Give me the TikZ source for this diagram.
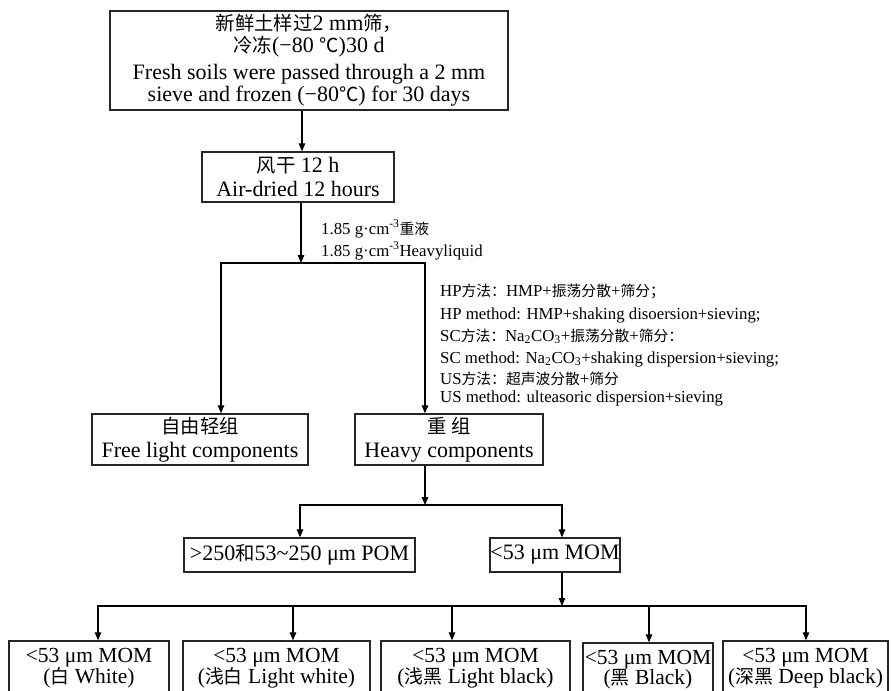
\documentclass[tikz,border=0pt]{standalone}
\usepackage{fontspec}
\setmainfont{Liberation Serif}
\newfontfamily\cjk[Scale=0.88]{Noto Sans CJK SC}
\usetikzlibrary{arrows.meta}
\begin{document}
\begin{tikzpicture}[x=1pt,y=-1pt,
  box/.style={draw=black!85, line width=1.3pt, inner sep=0pt, align=center, font=\fontsize{22}{22}\selectfont},
  small/.style={font=\fontsize{21.5}{20}\selectfont},
  arr/.style={-{Triangle[length=8pt,width=6.5pt]}, line width=1.2pt},
  ln/.style={line width=1.2pt},
  note/.style={inner sep=0pt, anchor=base west, font=\fontsize{16.8}{20}\selectfont}]

\clip (0,0) rectangle (892,691);

% boxes
\node[box, minimum width=398pt, minimum height=99pt] (top) at (309,60.5)
  {{\cjk 新鲜土样过}2 mm{\cjk 筛，}\\ {\cjk 冷冻}(−80 {\cjk ℃})30 d\\[5pt]
   Fresh soils were passed through a 2 mm\\ sieve and frozen (−80{\cjk ℃}) for 30 days};
\node[box, minimum width=192pt, minimum height=50pt, font=\fontsize{22}{24}\selectfont] (air) at (298,177)
  {{\cjk 风干} 12 h\\ Air-dried 12 hours};
\node[box, minimum width=216pt, minimum height=51pt, font=\fontsize{22}{24}\selectfont] (free) at (200,439.5)
  {{\cjk 自由轻组}\\ Free light components};
\node[box, minimum width=188pt, minimum height=51pt, font=\fontsize{22}{24}\selectfont] (heavy) at (449,439.5)
  {{\cjk 重 组}\\ Heavy components};
\node[box, minimum width=231pt, minimum height=34pt] (pom) at (299.5,555)
  {>250{\cjk 和}53\textasciitilde250 μm POM};
\node[box, minimum width=130pt, minimum height=34pt] (mom) at (555,555)
  {<53 μm MOM};

\node[box, small, minimum width=160pt, minimum height=54pt] (b1) at (89,668)
  {<53 μm MOM\\({\cjk 白} White)};
\node[box, small, minimum width=187pt, minimum height=54pt] (b2) at (276.5,668)
  {<53 μm MOM\\({\cjk 浅白} Light white)};
\node[box, small, minimum width=189pt, minimum height=54pt] (b3) at (475.5,668)
  {<53 μm MOM\\({\cjk 浅黑} Light black)};
\node[box, small, minimum width=130pt, minimum height=54pt] (b4) at (648,670)
  {<53 μm MOM\\({\cjk 黑} Black)};
\node[box, small, minimum width=165pt, minimum height=54pt] (b5) at (805.5,668)
  {<53 μm MOM\\({\cjk 深黑} Deep black)};

% labels
\node[note] (l1) at (321,234) {1.85 g·cm\textsuperscript{-3}{\cjk 重液}};
\node[note] (l2) at (321,256) {1.85 g·cm\textsuperscript{-3}Heavyliquid};

\node[note] (m1) at (440,296) {HP{\cjk 方法：}HMP+{\cjk 振荡分散}+{\cjk 筛分；}};
\node[note] (m2) at (440,319) {HP method: HMP+shaking disoersion+sieving;};
\node[note] (m3) at (440,341) {SC{\cjk 方法：}Na\textsubscript{2}CO\textsubscript{3}+{\cjk 振荡分散}+{\cjk 筛分：}};
\node[note] (m4) at (440,363) {SC method: Na\textsubscript{2}CO\textsubscript{3}+shaking dispersion+sieving;};
\node[note] (m5) at (440,384) {US{\cjk 方法：超声波分散}+{\cjk 筛分}};
\node[note] (m6) at (440,402) {US method: ulteasoric dispersion+sieving};

% connectors
\coordinate (xa) at (302,0);
\draw[arr] (top.south -| xa) -- (air.north -| xa);

\coordinate (s1) at (301,263);
\coordinate (s1l) at (221,263);
\coordinate (s1r) at (425,263);
\draw[arr] (air.south -| s1) -- (s1);
\draw[arr] (s1) -| (free.north -| s1l);
\draw[arr] (s1) -| (heavy.north -| s1r);

\coordinate (s2) at (425,505);
\coordinate (s2l) at (300,505);
\coordinate (s2r) at (562,505);
\draw[arr] (heavy.south -| s2) -- (s2);
\draw[arr] (s2) -| (pom.north -| s2l);
\draw[arr] (s2) -| (mom.north -| s2r);

\coordinate (s3) at (562,606);
\coordinate (x1) at (98,606);
\coordinate (x2) at (293,606);
\coordinate (x3) at (452,606);
\coordinate (x4) at (649,606);
\coordinate (x5) at (806,606);
\draw[arr] (mom.south -| s3) -- (s3);
\draw[arr] (s3) -| (b1.north -| x1);
\draw[arr] (s3) -| (b2.north -| x2);
\draw[arr] (s3) -| (b3.north -| x3);
\draw[arr] (s3) -| (b4.north -| x4);
\draw[arr] (s3) -| (b5.north -| x5);
\end{tikzpicture}
\end{document}
